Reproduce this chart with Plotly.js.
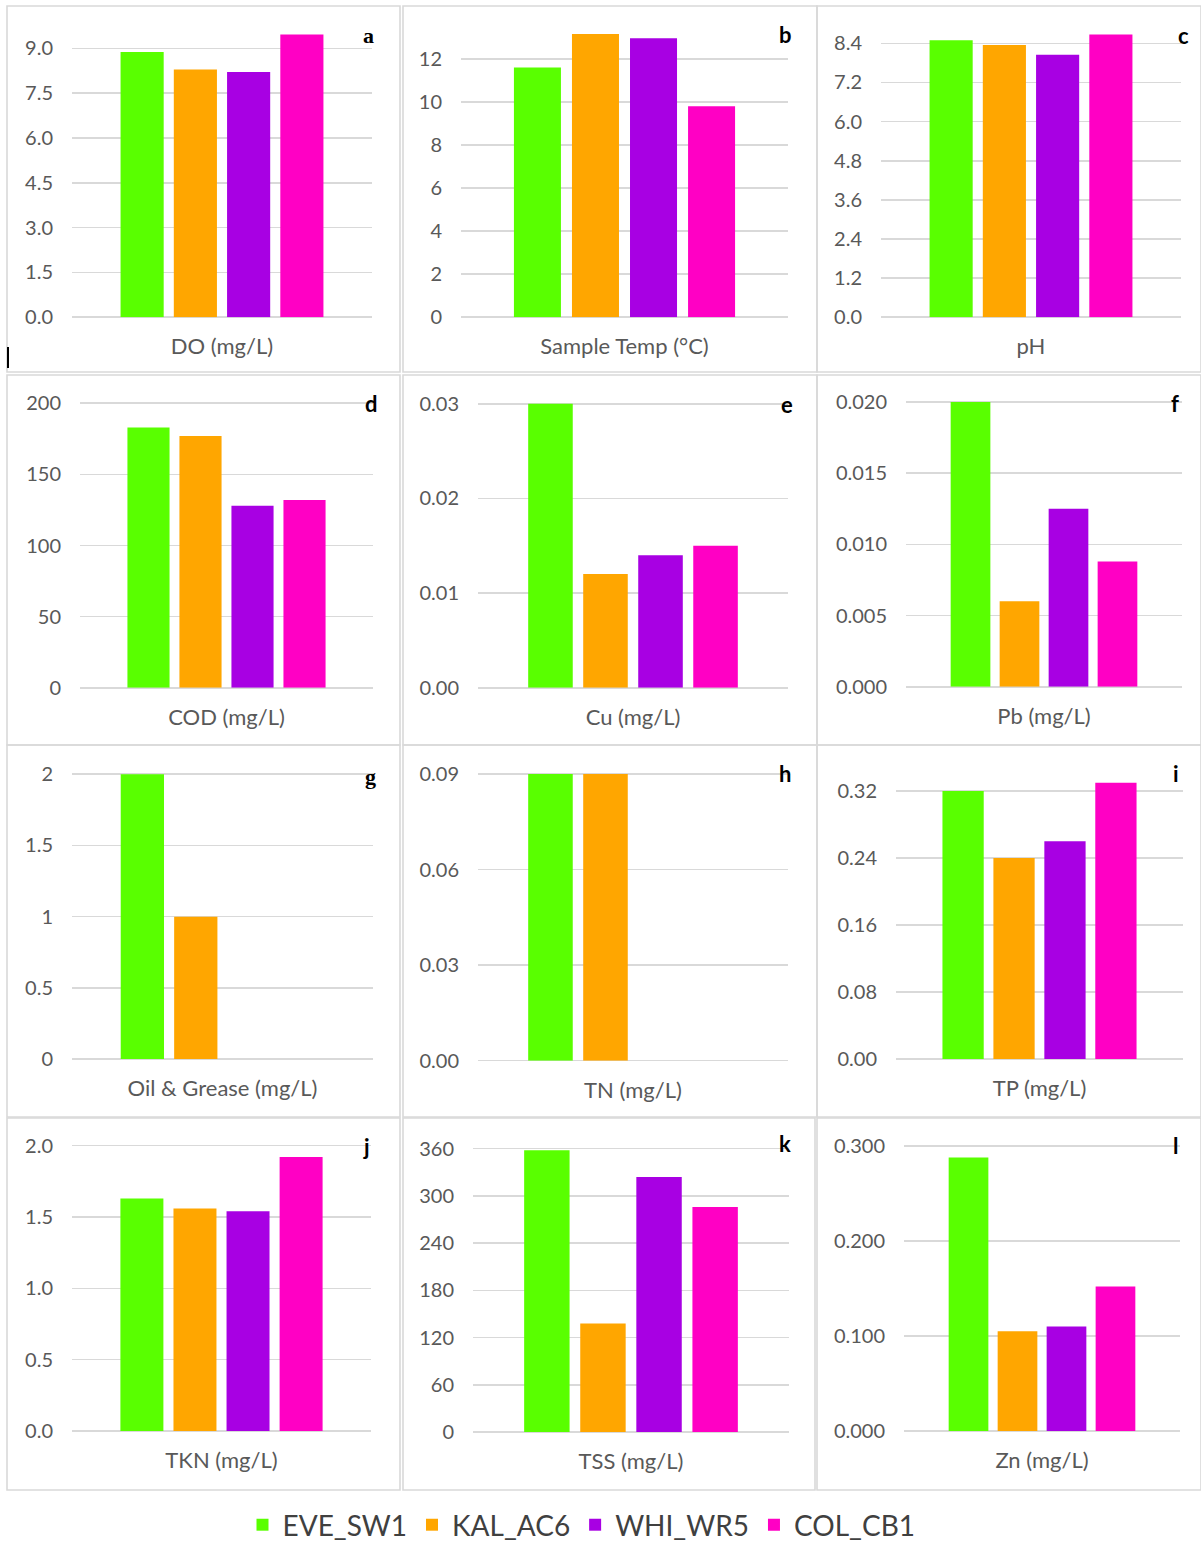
<!DOCTYPE html>
<html><head><meta charset="utf-8">
<script src="https://cdn.plot.ly/plotly-3.0.1.min.js"></script>
<style>html,body{margin:0;padding:0;background:#fff}</style>
</head><body><div id="chart" style="width:1201px;height:1543px"></div>
<script>
// ---------------- DATA ----------------
const sites = ['EVE_SW1', 'KAL_AC6', 'WHI_WR5', 'COL_CB1'];
const parameters = ['DO (mg/L)', 'Sample Temp (°C)', 'pH', 'COD (mg/L)', 'Cu (mg/L)', 'Pb (mg/L)',
  'Oil & Grease (mg/L)', 'TN (mg/L)', 'TP (mg/L)', 'TKN (mg/L)', 'TSS (mg/L)', 'Zn (mg/L)'];
const panelLetters = ['a', 'b', 'c', 'd', 'e', 'f', 'g', 'h', 'i', 'j', 'k', 'l'];
const EVE_SW1 = [8.88, 11.6, 8.49, 183, 0.030, 0.020, 2, 0.09, 0.32, 1.63, 358, 0.288];
const KAL_AC6 = [8.29, 13.16, 8.35, 177, 0.012, 0.006, 1, 0.09, 0.24, 1.56, 138, 0.105];
const WHI_WR5 = [8.21, 12.96, 8.05, 128, 0.014, 0.0125, null, null, 0.26, 1.54, 324, 0.110];
const COL_CB1 = [9.46, 9.8, 8.67, 132, 0.015, 0.0088, null, null, 0.33, 1.92, 286, 0.152];
const tickStep = [1.5, 2, 1.2, 50, 0.01, 0.005, 0.5, 0.03, 0.08, 0.5, 60, 0.1];
const tickTop = [9, 12, 8.4, 200, 0.03, 0.02, 2, 0.09, 0.32, 2, 360, 0.3];
const tickFormats = ['.1f', 'd', '.1f', 'd', '.2f', '.3f', '', '.2f', '.2f', '.1f', 'd', '.3f'];

// ---------------- STYLE / GEOMETRY ----------------
const seriesValues = [EVE_SW1, KAL_AC6, WHI_WR5, COL_CB1];
const colors = ['#59ff00', '#ffa600', '#a800e3', '#ff00c4'];
const W = 1201, H = 1543;
const plotX = [[72,372],[461,788],[881,1181],[80,373],[478,788],[906,1182],[72,373],[478,788],[896,1183],[72,371],[473,789],[904,1180]];
const zeroY = [317.3,317.3,317.3,687.7,687.7,686.7,1059,1060.7,1059,1431,1432,1431];
const topTickY = [48.3,59,43.3,403.3,403.7,402,774.3,774,791,1145.7,1148.7,1146];
const domTopY = [28,28,28,390,390,390,760,760,760,1130,1130,1130];
const panelBoxes = [[7,400,6,372],[403,817,6,372],[817,1201,6,372],
  [7,400,375,745],[403,817,375,745],[817,1201,375,745],
  [7,400,745,1117],[403,817,745,1117],[817,1201,745,1117],
  [7,400,1118,1490],[403,815,1118,1490],[817,1201,1118,1490]];
const letterPos = [[368,36],[785,34],[1183,36],[371,403],[787,405],[1175,403],[370,776],[785,773],[1176,773],[366,1146],[785,1143],[1175,1145]];
const serifLetters = {a: true, g: true};

const px = x => x / W;
const py = y => 1 - y / H;

const traces = [];
const layout = {
  width: W, height: H,
  margin: {l: 0, r: 0, t: 0, b: 0, autoexpand: false},
  paper_bgcolor: '#ffffff', plot_bgcolor: 'rgba(0,0,0,0)',
  barmode: 'group', bargap: 0.29, bargroupgap: 0.19,
  font: {family: 'Lato, "Open Sans", sans-serif', color: '#595959'},
  showlegend: true,
  legend: {orientation: 'h', xref: 'container', yref: 'container',
    x: 0.5 - 19 / W, xanchor: 'center', y: py(1525), yanchor: 'middle',
    font: {size: 28, color: '#404040', family: 'Lato, sans-serif'}, itemwidth: 30, traceorder: 'normal'},
  shapes: [], annotations: []
};

parameters.forEach((p, i) => {
  const k = i === 0 ? '' : String(i + 1);
  seriesValues.forEach((vals, s) => {
    traces.push({
      type: 'bar', name: sites[s], x: [p], y: [vals[i]],
      xaxis: 'x' + k, yaxis: 'y' + k,
      marker: {color: colors[s], line: {width: 0}},
      legendgroup: sites[s], showlegend: i === 0, hoverinfo: 'y'
    });
  });
  const rmax = tickTop[i] * (zeroY[i] - domTopY[i]) / (zeroY[i] - topTickY[i]);
  layout['xaxis' + k] = {
    domain: [px(plotX[i][0]), px(plotX[i][1])], anchor: 'y' + k,
    showgrid: false, showline: false, zeroline: false, ticks: '',
    tickfont: {size: 22, color: '#595959'}, ticklabelstandoff: 14, fixedrange: true
  };
  const ya = {
    domain: [py(zeroY[i]), py(domTopY[i])], anchor: 'x' + k,
    range: [0, rmax], tick0: 0, dtick: tickStep[i], tickmode: 'linear',
    showgrid: true, gridcolor: '#d9d9d9', gridwidth: 1.6,
    zeroline: true, zerolinecolor: '#d9d9d9', zerolinewidth: 1.6,
    showline: false, ticks: '', ticklabelstandoff: 18,
    tickfont: {size: 20, color: '#595959'}, fixedrange: true
  };
  if (tickFormats[i]) ya.tickformat = tickFormats[i];
  layout['yaxis' + k] = ya;

  const b = panelBoxes[i];
  layout.shapes.push({type: 'rect', xref: 'paper', yref: 'paper',
    x0: px(b[0]), x1: px(b[1]), y0: py(b[3]), y1: py(b[2]),
    line: {color: '#d9d9d9', width: 1.6}, layer: 'below'});

  const L = panelLetters[i];
  layout.annotations.push({xref: 'paper', yref: 'paper', x: px(letterPos[i][0]), y: py(letterPos[i][1]),
    xanchor: 'center', yanchor: 'middle', showarrow: false,
    text: '<b>' + L + '</b>',
    font: {size: 22, color: '#000000', family: serifLetters[L] ? '"Liberation Serif", serif' : 'Lato, sans-serif'}});
});

// small black mark at left edge of panel a
layout.shapes.push({type: 'line', xref: 'paper', yref: 'paper', x0: px(8), x1: px(8), y0: py(368), y1: py(347),
  line: {color: '#000000', width: 2}});

Plotly.newPlot('chart', traces, layout, {displayModeBar: false, staticPlot: true});
</script>
</body></html>
